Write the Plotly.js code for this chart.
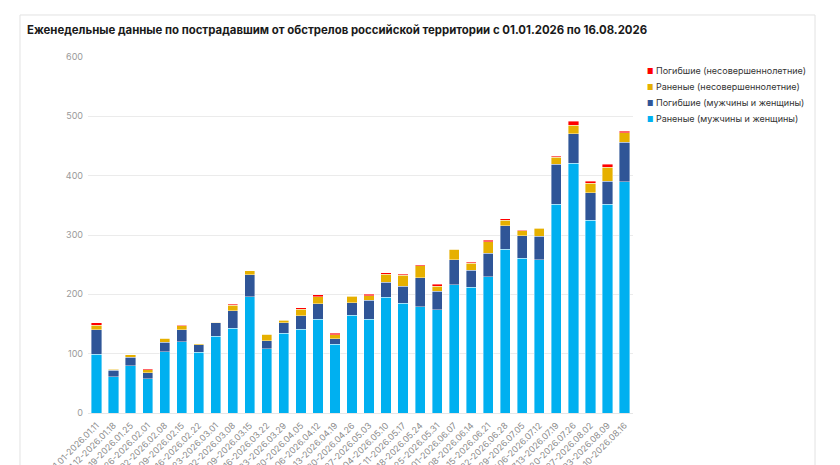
<!DOCTYPE html>
<html>
<head>
<meta charset="utf-8">
<script src="https://cdn.plot.ly/plotly-3.0.1.min.js"></script>
<style>
  html, body { margin: 0; padding: 0; background: #fff; overflow: hidden; }
  #chart { width: 840px; height: 465px; }
</style>
</head>
<body>
<div id="chart"></div>
<script>
// Weeks of 2026
var weeks = [
    '2026.01.01-2026.01.11', '2026.01.12-2026.01.18', '2026.01.19-2026.01.25', '2026.01.26-2026.02.01',
    '2026.02.02-2026.02.08', '2026.02.09-2026.02.15', '2026.02.16-2026.02.22', '2026.02.23-2026.03.01',
    '2026.03.02-2026.03.08', '2026.03.09-2026.03.15', '2026.03.16-2026.03.22', '2026.03.23-2026.03.29',
    '2026.03.30-2026.04.05', '2026.04.06-2026.04.12', '2026.04.13-2026.04.19', '2026.04.20-2026.04.26',
    '2026.04.27-2026.05.03', '2026.05.04-2026.05.10', '2026.05.11-2026.05.17', '2026.05.18-2026.05.24',
    '2026.05.25-2026.05.31', '2026.06.01-2026.06.07', '2026.06.08-2026.06.14', '2026.06.15-2026.06.21',
    '2026.06.22-2026.06.28', '2026.06.29-2026.07.05', '2026.07.06-2026.07.12', '2026.07.13-2026.07.19',
    '2026.07.20-2026.07.26', '2026.07.27-2026.08.02', '2026.08.03-2026.08.09', '2026.08.10-2026.08.16'
];

// Раненые (мужчины и женщины)
var woundedAdults = [99, 61, 80, 58, 103, 120, 102, 129, 143, 196, 108, 134, 141, 158, 116, 165,
    158, 195, 185, 179, 174, 216, 212, 230, 276, 261, 258, 352, 421, 325, 352, 390];
// Погибшие (мужчины и женщины)
var killedAdults = [41, 11, 14, 10, 16, 20, 13, 23, 29, 37, 14, 18, 23, 26, 9, 21,
    32, 25, 29, 49, 31, 42, 29, 39, 40, 38, 40, 67, 50, 46, 39, 66];
// Раненые (несовершеннолетние)
var woundedMinors = [8, 2, 4, 5, 7, 7, 2, 1, 10, 7, 11, 4, 11, 12, 7, 11,
    8, 14, 18, 20, 9, 18, 11, 20, 9, 8, 13, 12, 14, 16, 23, 16];
// Погибшие (несовершеннолетние)
var killedMinors = [4, 1, 0, 2, 0, 1, 0, 0, 1, 0, 0, 1, 2, 3, 2, 1,
    2, 2, 2, 2, 3, 0, 2, 2, 2, 1, 1, 2, 7, 4, 5, 3];

var seriesNames = ['Раненые (мужчины и женщины)', 'Погибшие (мужчины и женщины)',
    'Раненые (несовершеннолетние)', 'Погибшие (несовершеннолетние)'];
var seriesColors = ['#00b0f0', '#2f5597', '#e6b000', '#ff0000'];
var seriesValues = [woundedAdults, killedAdults, woundedMinors, killedMinors];

var traces = seriesNames.map(function(name, i) {
    return {
        type: 'bar',
        name: name,
        x: weeks,
        y: seriesValues[i],
        marker: { color: seriesColors[i], line: { color: '#ffffff', width: 0.4 } },
        hovertemplate: '%{x}<br>' + name + ': %{y}<extra></extra>'
    };
});

// plot area in pixels: x 88..633, y 57..413
// Compact legend (small square + label), top entry is the last series
var legendNotes = seriesNames.map(function(name, i) {
    var row = seriesNames.length - 1 - i;
    return {
        xref: 'paper', yref: 'paper',
        x: (645 - 88) / 545, xanchor: 'left',
        y: (413 - (70 + row * 16)) / 356, yanchor: 'middle',
        showarrow: false,
        align: 'left',
        text: '<span style="color:' + seriesColors[i] + ';font-size:7px">■</span> ' + name,
        font: { size: 9, color: '#333' }
    };
});

var layout = {
    width: 840,
    height: 465,
    margin: { l: 88, r: 207, t: 57, b: 52, autoexpand: false },
    paper_bgcolor: '#ffffff',
    plot_bgcolor: '#ffffff',
    font: { family: 'Inter, "Noto Sans", sans-serif', color: '#444' },
    barmode: 'stack',
    bargap: 0.4,
    showlegend: false,
    title: {
        text: 'Еженедельные данные по пострадавшим от обстрелов российской территории с 01.01.2026 по 16.08.2026',
        font: { size: 11.4, color: '#1a1a1a', weight: 'bold' },
        xref: 'container', x: 27 / 840, xanchor: 'left',
        yref: 'container', y: 1 - 30 / 465, yanchor: 'middle'
    },
    annotations: legendNotes,
    xaxis: {
        type: 'category',
        tickangle: -45,
        tickfont: { size: 8.8, color: '#8a8a8a' },
        ticklabelstandoff: 3,
        showgrid: false,
        showline: true,
        linecolor: '#e6e6e6',
        linewidth: 1,
        ticks: '',
        automargin: false
    },
    yaxis: {
        range: [0, 600],
        dtick: 100,
        tickfont: { size: 9, color: '#9a9a9a' },
        gridcolor: '#ebebeb',
        gridwidth: 1,
        zeroline: false,
        ticks: '',
        ticklabelstandoff: 4,
        automargin: false
    },
    shapes: [{
        type: 'rect',
        xref: 'paper', yref: 'paper',
        x0: -0.1248, x1: 1.334,
        y0: -0.3, y1: 1.118,
        line: { color: '#e2e2e2', width: 1 },
        fillcolor: 'rgba(0,0,0,0)',
        layer: 'below'
    }]
};

Plotly.newPlot('chart', traces, layout, { displayModeBar: false });
</script>
</body>
</html>
